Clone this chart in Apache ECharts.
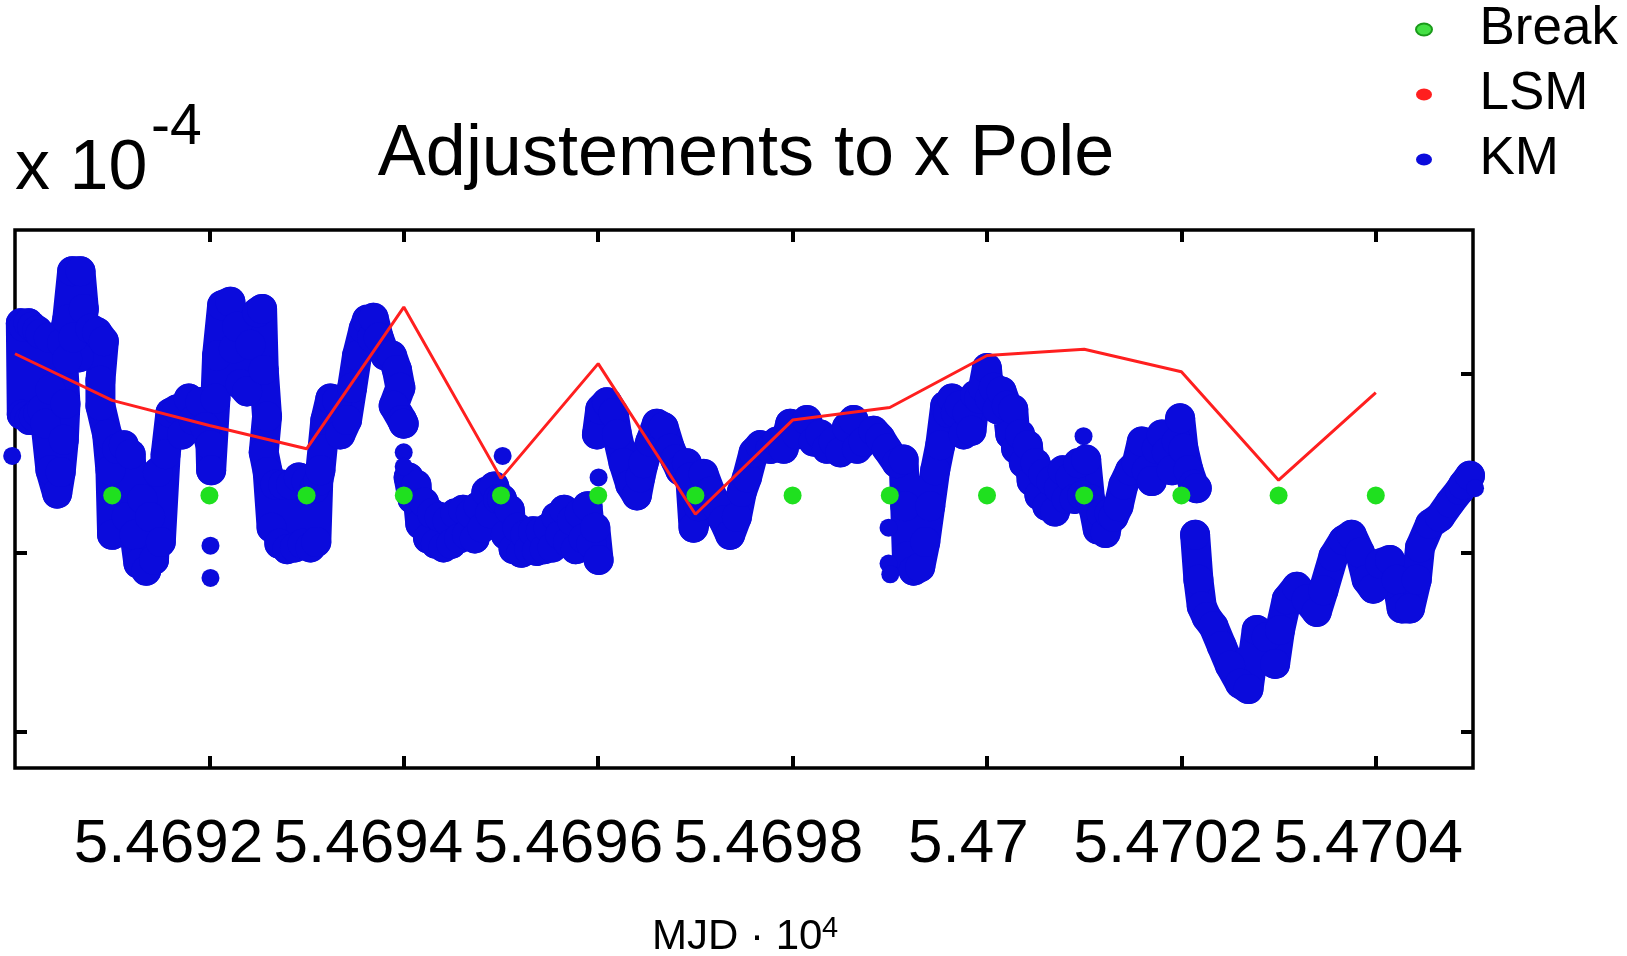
<!DOCTYPE html>
<html><head><meta charset="utf-8">
<script src="https://cdn.jsdelivr.net/npm/echarts@6/dist/echarts.min.js"></script>
<style>html,body{margin:0;padding:0;background:#fff}#c{width:1627px;height:956px}</style>
</head><body><div id="c"></div><script>
// ---- data (MJD, value in units of 1e-4) ----
const xTicks = [54692, 54694, 54696, 54698, 54700, 54702, 54704];
const yTicks = [-1, 0, 1];
const breakMJD = [54691, 54692, 54693, 54694, 54695, 54696, 54697, 54698, 54699, 54700, 54701, 54702, 54703, 54704];
const breakVal = [0.32, 0.32, 0.32, 0.32, 0.32, 0.32, 0.32, 0.32, 0.32, 0.32, 0.32, 0.32, 0.32, 0.32];
const lsmMJD = [54690, 54691, 54692, 54693, 54694, 54695, 54696, 54697, 54698, 54699, 54700, 54701, 54702, 54703, 54704];
const lsmVal = [1.11, 0.85, 0.71, 0.58, 1.37, 0.415, 1.055, 0.215, 0.74, 0.81, 1.10, 1.135, 1.01, 0.405, 0.893];
const kmSeg1 = [[54690.06,1.28],[54690.07,0.77],[54690.091,1.26],[54690.108,0.76],[54690.140,1.28],[54690.150,0.74],[54690.177,1.26],[54690.194,0.76],[54690.230,1.24],[54690.240,0.78],[54690.262,1.22],[54690.280,0.80],[54690.348,1.20],[54690.365,0.91],[54690.314,0.72],[54690.365,0.46],[54690.434,0.33],[54690.470,0.45],[54690.502,0.63],[54690.519,0.83],[54690.485,1.17],[54690.537,1.30],[54690.588,1.57],[54690.674,1.57],[54690.708,1.36],[54690.656,1.09],[54690.537,1.08],[54690.600,1.20],[54690.777,1.25],[54690.845,1.23],[54690.914,1.18],[54690.879,0.96],[54690.879,0.82],[54690.948,0.66],[54690.982,0.46],[54690.999,0.10],[54691.05,0.58],[54691.12,0.60],[54691.15,0.20],[54691.19,0.55],[54691.23,0.10],[54691.27,-0.06],[54691.31,0.30],[54691.35,-0.10],[54691.39,0.20],[54691.43,-0.04],[54691.47,0.45],[54691.50,0.06],[54691.55,0.55],[54691.599,0.78],[54691.668,0.80],[54691.719,0.66],[54691.788,0.86],[54691.839,0.74],[54691.908,0.84],[54691.959,0.70],[54692.011,0.60],[54692.018,0.46],[54692.062,0.86],[54692.079,1.10],[54692.131,1.38],[54692.216,1.40],[54692.251,1.14],[54692.285,1.26],[54692.319,0.94],[54692.388,0.90],[54692.422,1.16],[54692.491,1.34],[54692.542,1.36],[54692.559,1.02],[54692.593,0.76],[54692.559,0.56],[54692.60,0.45],[54692.64,0.14],[54692.68,0.38],[54692.72,0.05],[54692.76,0.38],[54692.80,0.02],[54692.84,0.38],[54692.88,0.03],[54692.92,0.42],[54692.96,0.05],[54693.00,0.40],[54693.04,0.03],[54693.08,0.36],[54693.10,0.06],[54693.12,0.40],[54693.142,0.46],[54693.193,0.74],[54693.245,0.86],[54693.313,0.85],[54693.348,0.66],[54693.416,0.74],[54693.468,0.92],[54693.519,1.10],[54693.588,1.25],[54693.622,1.30],[54693.673,1.20],[54693.690,1.31],[54693.742,1.20],[54693.810,1.10],[54693.879,1.10],[54693.930,1.02],[54693.965,0.92],[54693.896,0.82],[54693.982,0.74],[54693.999,0.72]];
const kmSeg2 = [[54694.050,0.42],[54694.09,0.30],[54694.13,0.38],[54694.17,0.16],[54694.21,0.28],[54694.25,0.08],[54694.29,0.22],[54694.33,0.05],[54694.37,0.20],[54694.41,0.03],[54694.45,0.18],[54694.49,0.05],[54694.53,0.22],[54694.57,0.08],[54694.61,0.24],[54694.65,0.10],[54694.69,0.22],[54694.73,0.08],[54694.77,0.26],[54694.81,0.14],[54694.85,0.34],[54694.89,0.22],[54694.93,0.37],[54694.97,0.30],[54695.01,0.30],[54695.05,0.10],[54695.09,0.24],[54695.13,0.02],[54695.17,0.14],[54695.21,0.00],[54695.25,0.10],[54695.29,0.02],[54695.33,0.12],[54695.37,0.01],[54695.41,0.12],[54695.45,0.02],[54695.49,0.14],[54695.53,0.03],[54695.57,0.20],[54695.61,0.10],[54695.65,0.24],[54695.69,0.06],[54695.73,0.18],[54695.77,0.02],[54695.81,0.22],[54695.85,0.08],[54695.89,0.26],[54695.93,0.05],[54695.97,0.14],[54696.004,-0.04]];
const kmSeg3 = [[54695.987,0.66],[54696.021,0.80],[54696.090,0.84],[54696.158,0.78],[54696.193,0.66],[54696.261,0.50],[54696.330,0.38],[54696.398,0.32],[54696.433,0.42],[54696.467,0.50],[54696.536,0.62],[54696.604,0.72],[54696.673,0.70],[54696.741,0.58],[54696.793,0.52],[54696.844,0.46],[54696.913,0.50],[54696.947,0.42],[54696.981,0.14],[54697.033,0.26],[54697.084,0.44],[54697.153,0.34],[54697.221,0.26],[54697.290,0.18],[54697.358,0.10],[54697.427,0.20],[54697.478,0.34],[54697.531,0.42],[54697.599,0.56],[54697.668,0.60],[54697.771,0.58],[54697.839,0.62],[54697.908,0.58],[54697.976,0.72],[54698.045,0.66],[54698.148,0.74],[54698.216,0.62],[54698.285,0.66],[54698.353,0.58],[54698.422,0.62],[54698.490,0.56],[54698.559,0.70],[54698.628,0.74],[54698.662,0.58],[54698.730,0.62],[54698.833,0.68],[54698.902,0.64],[54698.970,0.58],[54699.073,0.50],[54699.142,0.52],[54699.159,0.26],[54699.176,-0.02],[54699.245,-0.10],[54699.313,-0.08],[54699.365,0.06],[54699.416,0.26],[54699.467,0.46],[54699.519,0.60],[54699.570,0.82],[54699.60,0.78],[54699.64,0.86],[54699.68,0.78],[54699.72,0.82],[54699.76,0.66],[54699.80,0.78],[54699.84,0.68],[54699.88,0.88],[54699.92,0.86],[54699.96,0.92],[54699.999,1.03],[54700.03,0.86],[54700.07,0.92],[54700.11,0.80],[54700.15,0.90],[54700.204,0.82],[54700.24,0.66],[54700.27,0.80],[54700.30,0.58],[54700.34,0.66],[54700.38,0.50],[54700.42,0.60],[54700.46,0.40],[54700.50,0.50],[54700.54,0.32],[54700.58,0.44],[54700.62,0.26],[54700.66,0.40],[54700.70,0.23],[54700.74,0.36],[54700.78,0.46],[54700.82,0.30],[54700.86,0.42],[54700.90,0.30],[54700.94,0.50],[54700.98,0.32],[54701.02,0.52],[54701.06,0.30],[54701.10,0.24],[54701.14,0.13],[54701.18,0.22],[54701.22,0.11],[54701.26,0.22],[54701.301,0.20],[54701.353,0.26],[54701.404,0.38],[54701.473,0.46],[54701.541,0.50],[54701.593,0.62],[54701.644,0.46],[54701.696,0.40],[54701.747,0.58],[54701.798,0.66],[54701.850,0.56],[54701.901,0.46],[54701.953,0.62],[54701.987,0.75],[54702.021,0.58],[54702.073,0.46],[54702.124,0.38],[54702.158,0.36]];
const kmSeg4 = [[54702.141,0.10],[54702.175,-0.15],[54702.210,-0.30],[54702.260,-0.36],[54702.330,-0.41],[54702.415,-0.52],[54702.501,-0.63],[54702.604,-0.73],[54702.690,-0.76],[54702.775,-0.43],[54702.878,-0.47],[54702.964,-0.62],[54703.015,-0.43],[54703.084,-0.26],[54703.187,-0.19],[54703.289,-0.26],[54703.392,-0.33],[54703.461,-0.21],[54703.564,-0.02],[54703.667,0.07],[54703.752,0.10],[54703.838,0.00],[54703.906,-0.15],[54703.975,-0.20],[54704.044,-0.06],[54704.146,-0.04],[54704.215,-0.15],[54704.266,-0.31],[54704.352,-0.31],[54704.421,-0.15],[54704.455,0.03],[54704.558,0.16],[54704.661,0.20],[54704.764,0.28],[54704.866,0.35],[54704.900,0.38],[54704.969,0.43]];
const kmIsolated = [[54689.971,0.54],[54692.011,0.04],[54692.011,-0.14],[54693.999,0.56],[54693.999,0.48],[54695.017,0.54],[54696.004,0.42],[54698.987,0.14],[54698.987,-0.06],[54699.005,-0.12],[54700.993,0.65],[54705.021,0.36]];

// ---- chart ----
const BLUE = '#0b0bdc', RED = '#ff1f1f', GREEN = '#1fe01f';
const FONT = '"Liberation Sans", Arial, sans-serif';
const ELLIPSE = 'path://M0,6 A8,6 0 1,1 16,6 A8,6 0 1,1 0,6 Z';
const chart = echarts.init(document.getElementById('c'), null, {renderer: 'canvas', width: 1627, height: 956});

const series = [];
[kmSeg1, kmSeg2, kmSeg3, kmSeg4].forEach(seg => series.push({
  type: 'line', name: 'KM', data: seg, xAxisIndex: 0, yAxisIndex: 0,
  symbol: 'circle', symbolSize: 30, showSymbol: true,
  itemStyle: {color: BLUE, opacity: 1}, lineStyle: {color: BLUE, width: 30, cap: 'round', join: 'round', opacity: 1},
  clip: false, z: 2, silent: true
}));
series.push({type: 'scatter', name: 'KM', data: kmIsolated, xAxisIndex: 0, yAxisIndex: 0,
  symbol: 'circle', symbolSize: 18, itemStyle: {color: BLUE, opacity: 1}, clip: false, z: 2, silent: true});
series.push({type: 'line', name: 'LSM', data: lsmMJD.map((x, i) => [x, lsmVal[i]]), xAxisIndex: 0, yAxisIndex: 0,
  showSymbol: false, itemStyle: {color: RED}, lineStyle: {color: RED, width: 3}, z: 3, silent: true});
series.push({type: 'scatter', name: 'Break', data: breakMJD.map((x, i) => [x, breakVal[i]]), xAxisIndex: 0, yAxisIndex: 0,
  symbol: 'circle', symbolSize: 18, itemStyle: {color: GREEN, opacity: 1}, z: 4, silent: true});

const tickStyle = {show: true, inside: true, length: 12, lineStyle: {color: '#000', width: 4}};
const txt = (size) => ({fontSize: size, fontWeight: 'normal', color: '#000', fontFamily: FONT});

chart.setOption({
  animation: false,
  backgroundColor: '#fff',
  title: [
    {text: 'Adjustements to x Pole', left: 746, top: 119, textAlign: 'center', padding: 0, textStyle: txt(72)},
    {text: 'x 10', left: 15, top: 135, padding: 0, textStyle: txt(70)},
    {text: '-4', left: 151, top: 100, padding: 0, textStyle: txt(57)},
    {text: 'MJD · 10', left: 652, top: 916, padding: 0, textStyle: txt(42)},
    {text: '4', left: 822, top: 914, padding: 0, textStyle: txt(29)}
  ],
  legend: {
    orient: 'vertical', left: 1415, top: 3, padding: 0, itemGap: 12,
    itemWidth: 17, itemHeight: 12, selectedMode: false,
    textStyle: {fontSize: 53, color: '#000', fontFamily: FONT, padding: [0, 0, 0, 42]},
    data: [
      {name: 'Break', icon: ELLIPSE, itemStyle: {color: '#44e044', borderColor: '#1a9a1a', borderWidth: 2}},
      {name: 'LSM', icon: ELLIPSE, itemStyle: {color: RED, borderWidth: 0}},
      {name: 'KM', icon: ELLIPSE, itemStyle: {color: BLUE, borderWidth: 0}}
    ]
  },
  grid: {left: 15, right: 154, top: 230, bottom: 188, show: true, borderColor: '#000', borderWidth: 3.5},
  xAxis: [
    {type: 'value', min: 54690, max: 54705, interval: 2, position: 'bottom',
      axisLine: {show: false, onZero: false}, axisTick: Object.assign({customValues: xTicks}, tickStyle),
      axisLabel: {show: false}, splitLine: {show: false}},
    {type: 'value', min: 54690, max: 54705, interval: 2, position: 'top',
      axisLine: {show: false, onZero: false}, axisTick: Object.assign({customValues: xTicks}, tickStyle),
      axisLabel: {show: false}, splitLine: {show: false}},
    {type: 'value', min: 54690.465, max: 54705.048, position: 'bottom',
      axisLine: {show: false, onZero: false}, axisTick: {show: false}, splitLine: {show: false},
      axisLabel: Object.assign({show: true, customValues: xTicks, margin: 46,
        formatter: v => String(v / 10000)}, txt(62))}
  ],
  yAxis: [
    {type: 'value', min: -1.2, max: 1.8, position: 'left',
      axisLine: {show: false, onZero: false}, axisTick: Object.assign({customValues: yTicks}, tickStyle),
      axisLabel: {show: false}, splitLine: {show: false}},
    {type: 'value', min: -1.2, max: 1.8, position: 'right',
      axisLine: {show: false, onZero: false}, axisTick: Object.assign({customValues: yTicks}, tickStyle),
      axisLabel: {show: false}, splitLine: {show: false}}
  ],
  series: series
});
</script></body></html>
